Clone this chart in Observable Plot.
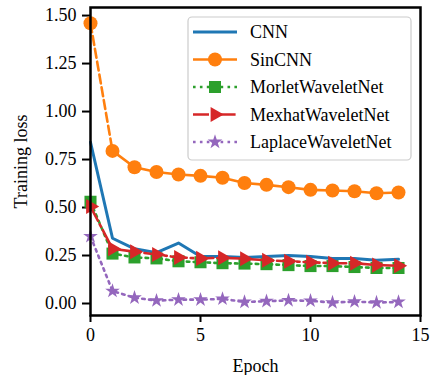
<!DOCTYPE html>
<html><head><meta charset="utf-8">
<script src="https://cdn.jsdelivr.net/npm/d3@7"></script>
<script src="https://cdn.jsdelivr.net/npm/@observablehq/plot@0.6"></script>
<style>
body{margin:0;background:#fff}
#chart{position:relative;width:432px;height:375px}
#chart svg, #chart svg text { font-family: "Liberation Serif", "DejaVu Serif", serif !important; }
</style>
</head><body><div id="chart"></div>
<script>
const epochs = [0,1,2,3,4,5,6,7,8,9,10,11,12,13,14];
const seriesNames = ["CNN","SinCNN","MorletWaveletNet","MexhatWaveletNet","LaplaceWaveletNet"];
const cnn     = [0.84,0.34,0.285,0.265,0.315,0.245,0.245,0.24,0.245,0.25,0.245,0.235,0.235,0.225,0.23];
const sincnn  = [1.46,0.795,0.71,0.685,0.672,0.665,0.655,0.628,0.618,0.606,0.592,0.589,0.585,0.574,0.578];
const morlet  = [0.53,0.26,0.24,0.235,0.22,0.215,0.21,0.208,0.205,0.2,0.195,0.195,0.19,0.185,0.185];
const mexhat  = [0.505,0.285,0.27,0.255,0.24,0.235,0.238,0.233,0.225,0.22,0.215,0.21,0.21,0.2,0.197];
const laplace = [0.35,0.065,0.03,0.015,0.02,0.02,0.024,0.008,0.012,0.016,0.014,0.005,0.01,0.005,0.008];
const xTicks = [0,5,10,15];
const yTicks = [0,0.25,0.5,0.75,1.0,1.25,1.5];
const colors = ["#1f77b4","#ff7f0e","#2ca02c","#d62728","#9467bd"];

const rows = (vals) => epochs.map((e,i) => ({epoch:e, loss:vals[i]}));
const dCnn = rows(cnn), dSin = rows(sincnn), dMor = rows(morlet), dMex = rows(mexhat), dLap = rows(laplace);

const lw = 2.6;
const font = "'Liberation Serif', 'DejaVu Serif', serif";
const plot = Plot.plot({
  width: 432, height: 375,
  marginLeft: 90, marginRight: 12, marginTop: 7, marginBottom: 60,
  style: {fontFamily: font, fontSize: "18px", background: "white", color: "black"},
  x: {domain: [0,15]},
  y: {domain: [-0.0625, 1.542]},
  marks: [
    Plot.axisX({ticks: xTicks, tickSize: 7, tickPadding: 6, strokeWidth: 2, fontSize: 18,
      label: "Epoch", labelAnchor: "center", labelArrow: "none", labelOffset: 56}),
    Plot.axisY({ticks: yTicks, tickFormat: d3.format(".2f"), tickSize: 8, tickPadding: 6, strokeWidth: 2, fontSize: 18,
      label: "Training loss", labelAnchor: "center", labelArrow: "none", labelOffset: 76}),
    // CNN
    Plot.line(dCnn, {x:"epoch", y:"loss", stroke: colors[0], strokeWidth: 3}),
    // SinCNN
    Plot.line(dSin.filter(d => d.epoch <= 1), {x:"epoch", y:"loss", stroke: colors[1], strokeWidth: lw, strokeDasharray: "9,4"}),
    Plot.line(dSin.filter(d => d.epoch >= 1), {x:"epoch", y:"loss", stroke: colors[1], strokeWidth: lw}),
    Plot.dot(dSin, {x:"epoch", y:"loss", fill: colors[1], r: 7, symbol: "circle"}),
    // Morlet
    Plot.line(dMor, {x:"epoch", y:"loss", stroke: colors[2], strokeWidth: lw, strokeDasharray: "2.6,4.3"}),
    Plot.dot(dMor, {x:"epoch", y:"loss", fill: colors[2], r: 6.8, symbol: "square"}),
    // Mexhat
    Plot.line(dMex, {x:"epoch", y:"loss", stroke: colors[3], strokeWidth: lw, strokeDasharray: "16,4,2.6,4"}),
    Plot.dot(dMex, {x:"epoch", y:"loss", fill: colors[3], r: 5.6, symbol: "triangle", rotate: 90}),
    // Laplace
    Plot.line(dLap, {x:"epoch", y:"loss", stroke: colors[4], strokeWidth: lw, strokeDasharray: "2.6,4.3"}),
    Plot.dot(dLap, {x:"epoch", y:"loss", fill: colors[4], r: 4.6, symbol: "star"}),
    Plot.frame({stroke: "black", strokeWidth: 2.5})
  ]
});
document.getElementById("chart").append(plot);

// Legend (inside plot, upper right)
const svg = d3.select(plot);
const lg = svg.append("g").attr("font-size",18).attr("text-anchor","start");
lg.append("rect").attr("x",188).attr("y",17).attr("width",223).attr("height",143)
  .attr("rx",4).attr("fill","white").attr("fill-opacity",0.85).attr("stroke","#cccccc").attr("stroke-width",1.2);
const dashes = [null, null, "2.6,4.3", "16,4,2.6,4", "2.6,4.3"];
const syms = [null, d3.symbolCircle, d3.symbolSquare, d3.symbolTriangle, d3.symbolStar];
const rs = [0, 7, 6.8, 5.6, 4.6];
seriesNames.forEach((name, i) => {
  const cy = 32 + i * 27.5;
  const g = lg.append("g");
  g.append("line").attr("x1",193).attr("x2",237).attr("y1",cy).attr("y2",cy)
    .attr("stroke",colors[i]).attr("stroke-width", i===0 ? 3 : lw)
    .attr("stroke-dasharray", dashes[i]);
  if (syms[i]) {
    g.append("path").attr("d", d3.symbol(syms[i], rs[i]*rs[i]*Math.PI)())
      .attr("fill", colors[i])
      .attr("transform", `translate(215,${cy})` + (i===3 ? " rotate(90)" : ""));
  }
  g.append("text").attr("x",250).attr("y",cy).attr("dy","0.35em").attr("fill","black").attr("text-anchor","start").text(name);
});
</script>
</body></html>
